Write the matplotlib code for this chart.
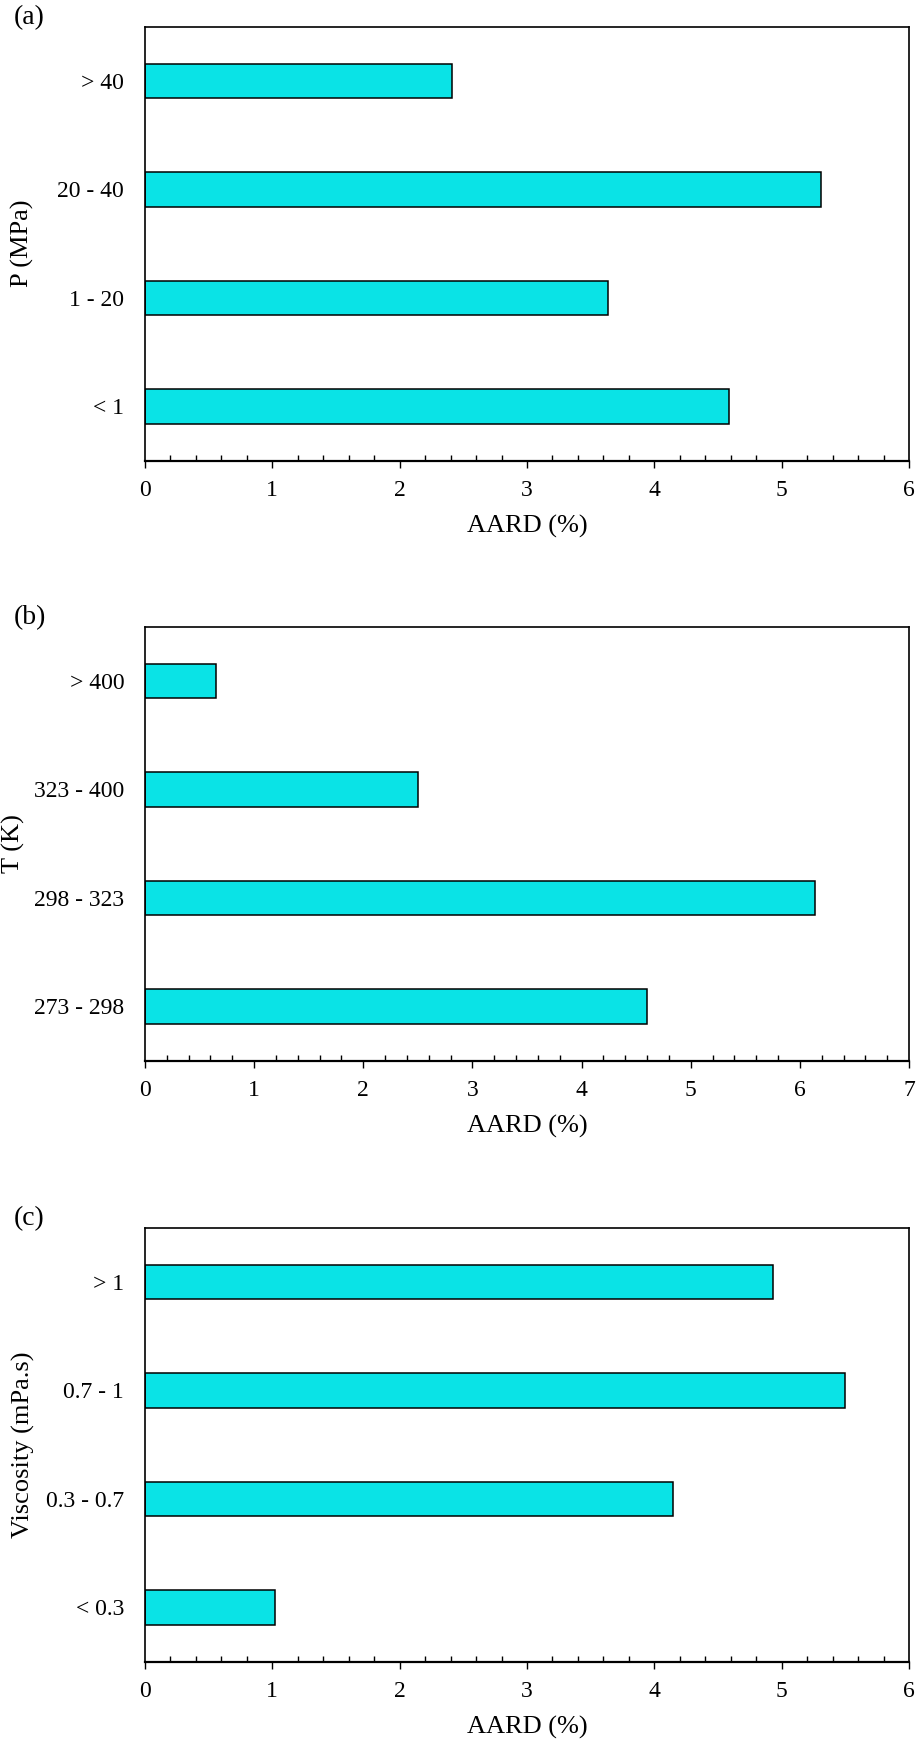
import numpy as np
import matplotlib.pyplot as plt
from matplotlib.ticker import MultipleLocator

plt.rcParams['font.family'] = ['Liberation Serif', 'DejaVu Serif']
plt.rcParams['font.size'] = 17

# AARD of the model for each range (bottom to top)
p_ranges = ['< 1', '1 - 20', '20 - 40', '> 40']
p_aard = [4.59, 3.64, 5.31, 2.41]

t_ranges = ['273 - 298', '298 - 323', '323 - 400', '> 400']
t_aard = [4.60, 6.14, 2.50, 0.65]

visc_ranges = ['< 0.3', '0.3 - 0.7', '0.7 - 1', '> 1']
visc_aard = [1.02, 4.15, 5.50, 4.93]

panels = [
    ('(a)', p_ranges, p_aard, 'P (MPa)', 6),
    ('(b)', t_ranges, t_aard, 'T (K)', 7),
    ('(c)', visc_ranges, visc_aard, 'Viscosity (mPa.s)', 6),
]

W, H = 920, 1744
fig = plt.figure(figsize=(W / 100, H / 100), dpi=100)

ax_left, ax_right = 145, 909
tops = [26.7, 626.7, 1227.7]
ax_h = 434
# right edge (pixels) of each rotated y label
label_x = [34, 25, 35]

for i, (tag, cats, vals, ylab, xmax) in enumerate(panels):
    top = tops[i]
    ax = fig.add_axes([ax_left / W, 1 - (top + ax_h) / H,
                       (ax_right - ax_left) / W, ax_h / H])
    y = np.arange(len(cats))
    ax.barh(y, vals, height=0.32, color='#0ae3e6', edgecolor='black',
            linewidth=1.1, zorder=2)
    ax.set_xlim(0, xmax)
    ax.set_ylim(-0.5, len(cats) - 0.5)
    ax.set_yticks(y)
    ax.set_yticklabels(cats)
    ax.xaxis.set_major_locator(MultipleLocator(1))
    ax.xaxis.set_minor_locator(MultipleLocator(0.2))
    ax.tick_params(axis='x', which='major', direction='out', length=5,
                   width=1.0, pad=9)
    ax.tick_params(axis='x', which='minor', direction='in', length=4.5,
                   width=1.0)
    ax.tick_params(axis='y', which='both', length=0, pad=15)
    for side in ['left', 'right', 'top']:
        ax.spines[side].set_linewidth(1.2)
    ax.spines['bottom'].set_linewidth(1.6)
    ax.set_xlabel('AARD (%)', fontsize=19, labelpad=10)
    ax.set_ylabel(ylab, fontsize=19)
    ax.yaxis.set_label_coords((label_x[i] - ax_left) / (ax_right - ax_left), 0.5)
    fig.text(14 / W, 1 - (top - 9) / H, tag, fontsize=20,
             ha='left', va='center')

fig.savefig('out.png', dpi=100)
